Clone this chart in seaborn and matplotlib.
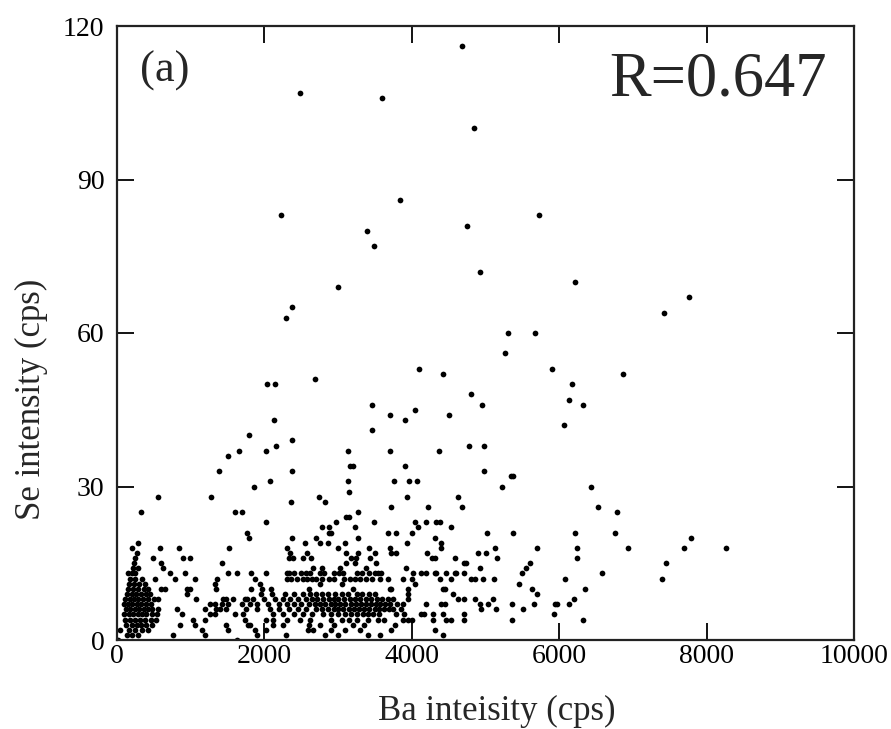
import matplotlib
matplotlib.use("Agg")
import matplotlib.pyplot as plt
import seaborn as sns
import pandas as pd

# ---- sparse high points (Ba, Se) ----
ba_high = [4680, 2480, 3590, 4840, 3835, 2230, 5720, 3390, 4750, 3490, 4930, 6220,
           3000, 7755, 2370, 7425, 2290, 5306, 5676, 5262, 4096, 5900, 4426, 6860,
           2690, 2040, 2145, 6180, 4806, 3460, 4950, 6328, 6128, 3707, 4499, 2130,
           3910, 4047, 6070, 3460, 1790, 2370, 2160, 4770, 4986, 1650, 2020, 3134,
           3707, 4367, 1500, 3160, 3200, 3910, 1390, 2370, 4986, 5340, 5375, 2080,
           3134, 3758, 3961, 4073, 1856, 5221, 6432, 3148, 556, 1274, 2737, 3930,
           4625, 2367, 2823, 3722, 4217, 4678, 6531]
se_high = [116, 107, 106, 100, 86, 83, 83, 80, 81, 77, 72, 70,
           69, 67, 65, 64, 63, 60, 60, 56, 53, 53, 52, 52,
           51, 50, 50, 50, 48, 46, 46, 46, 47, 44, 44, 43,
           43, 45, 42, 41, 40, 39, 38, 38, 38, 37, 37, 37,
           37, 37, 36, 34, 34, 34, 33, 33, 33, 32, 32, 31,
           31, 31, 31, 31, 30, 30, 30, 29, 28, 28, 28, 28,
           28, 27, 27, 26, 26, 26, 26]

# ---- dense band: Ba values at each integer Se level ----
se_25 = [321, 1600, 1690, 3270, 6785]
se_24 = [3111, 3148]
se_23 = [2019, 2967, 3485, 4038, 4197, 4333, 4380]
se_22 = [2787, 2877, 3225, 4083, 4536]
se_21 = [1766, 2877, 2900, 3676, 3789, 4006, 5023, 5375, 6210, 6752]
se_20 = [1793, 2379, 2705, 3270, 4319, 7782]
se_19 = [289, 2547, 2751, 2862, 3089, 3933, 4390]
se_18 = [208, 587, 840, 1518, 2311, 2999, 3417, 3699, 4390, 5135, 5700, 6242,
         6938, 7687, 8266]
se_17 = [270, 2344, 2580, 3111, 3270, 3496, 3722, 3789, 4205, 4896, 5009]
se_16 = [250, 492, 899, 989, 2335, 2390, 2524, 2637, 3179, 3238, 3436, 4270,
         4310, 4580, 5158, 6242]
se_15 = [230, 596, 1427, 3103, 3225, 3518, 4706, 4738, 5604, 7453]
se_14 = [221, 280, 627, 2660, 2787, 3022, 3383, 3924, 4932, 5556]
se_13 = [154, 200, 244, 722, 926, 1508, 1622, 1824, 2028, 2300, 2340, 2400,
         2500, 2560, 2620, 2760, 2810, 2950, 3010, 3060, 3250, 3330, 3420, 3500,
         3541, 3586, 4015, 4128, 4196, 4309, 4331, 4467, 4580, 4602, 4715, 5501,
         6581]
se_12 = [180, 250, 334, 515, 786, 1057, 1355, 1870, 2300, 2360, 2440, 2520,
         2580, 2640, 2700, 2780, 2880, 2950, 3080, 3160, 3230, 3300, 3380, 3460,
         3564, 3676, 3879, 4006, 4377, 4536, 4806, 4851, 4964, 5122, 6080, 7389]
se_11 = [160, 230, 300, 380, 1328, 1938, 2750, 3050, 4038, 5461]
se_10 = [150, 220, 290, 360, 425, 600, 650, 944, 989, 1341, 1824, 1961,
         2096, 2600, 3200, 3699, 3722, 3946, 4422, 4444, 5628, 6351]
se_09 = [130, 200, 260, 320, 390, 450, 956, 1950, 2100, 2280, 2400, 2520,
         2620, 2700, 2780, 2860, 2960, 3050, 3140, 3250, 3330, 3420, 3500, 3946,
         4557, 5700]
se_08 = [110, 170, 230, 290, 350, 420, 500, 560, 1070, 1440, 1485, 1577,
         1734, 1760, 1850, 2000, 2150, 2250, 2350, 2450, 2560, 2640, 2720, 2800,
         2880, 2940, 3000, 3080, 3160, 3230, 3300, 3380, 3450, 3530, 3600, 3680,
         3740, 3946, 4625, 4706, 4851, 5099, 6206]
se_07 = [100, 150, 210, 270, 330, 400, 460, 1260, 1328, 1418, 1508, 1690,
         1800, 1900, 2050, 2200, 2300, 2400, 2500, 2600, 2680, 2750, 2820, 2900,
         2960, 3030, 3100, 3170, 3240, 3310, 3380, 3450, 3520, 3570, 3630, 3700,
         3800, 3880, 4196, 4399, 4444, 4919, 5031, 5356, 5664, 5940, 5975, 6129]
se_06 = [120, 180, 240, 300, 360, 420, 480, 550, 808, 1192, 1341, 1395,
         1476, 1750, 1900, 2080, 2200, 2330, 2450, 2560, 2700, 2780, 2860, 2940,
         3000, 3070, 3150, 3220, 3290, 3350, 3420, 3500, 3560, 3620, 3690, 3740,
         3850, 4942, 5145, 5511]
se_05 = [100, 160, 220, 280, 340, 400, 470, 540, 876, 1260, 1328, 1600,
         1712, 2118, 2250, 2400, 2520, 2650, 2800, 2900, 3000, 3100, 3180, 3260,
         3340, 3400, 3480, 3550, 3789, 3900, 4119, 4164, 4287, 4422, 4715, 5926]
se_04 = [110, 180, 250, 310, 380, 460, 530, 1034, 1192, 1734, 2028, 2118,
         2300, 2480, 2620, 2900, 3050, 3150, 3250, 3400, 3540, 3620, 3880, 3950,
         4000, 4287, 4467, 4536, 4715, 5362, 6328]
se_03 = [120, 200, 270, 330, 400, 480, 853, 1057, 1476, 1780, 1802, 2118,
         2250, 2600, 2750, 2950, 3200, 3350, 3767]
se_02 = [41, 160, 250, 340, 420, 1147, 1508, 1870, 2019, 2592, 2660, 2900,
         3100, 3300, 3722, 4309]
se_01 = [131, 200, 290, 763, 1192, 1893, 2299, 2818, 3000, 3400, 3564, 4422]
se_00 = [18, 1622]

band = [se_00, se_01, se_02, se_03, se_04, se_05, se_06, se_07, se_08, se_09,
        se_10, se_11, se_12, se_13, se_14, se_15, se_16, se_17, se_18, se_19,
        se_20, se_21, se_22, se_23, se_24, se_25]

ba_all = list(ba_high)
se_all = list(se_high)
for level, xs in enumerate(band):
    ba_all.extend(xs)
    se_all.extend([level] * len(xs))

df = pd.DataFrame({"Ba": ba_all, "Se": se_all})

x_ticks = [0, 2000, 4000, 6000, 8000, 10000]
y_ticks = [0, 30, 60, 90, 120]

sns.set_style("ticks")
plt.rcParams["font.family"] = ["Liberation Serif", "DejaVu Serif"]

fig = plt.figure(figsize=(8.91, 7.29), dpi=100)
ax = fig.add_axes([117 / 891, 89 / 729, 737 / 891, 614 / 729])

sns.scatterplot(data=df, x="Ba", y="Se", ax=ax, color="black", s=17,
                linewidth=0, marker="o", legend=False)

ax.set_xlim(0, 10000)
ax.set_ylim(0, 120)
ax.set_xticks(x_ticks)
ax.set_yticks(y_ticks)
ax.set_xticklabels([str(v) for v in x_ticks])
ax.set_yticklabels([str(v) for v in y_ticks])
ax.tick_params(direction="in", length=12, width=1.3, top=True, right=True,
               labelsize=20, colors="black")
ax.tick_params(axis="x", pad=3)
ax.tick_params(axis="y", pad=9)
for sp in ax.spines.values():
    sp.set_visible(True)
    sp.set_linewidth(1.6)
    sp.set_color("#222222")

ax.set_xlabel("Ba inteisity (cps)", fontsize=25)
ax.set_ylabel("Se intensity (cps)", fontsize=25)
ax.xaxis.set_label_coords(0.515, -0.1305)
ax.xaxis.label.set_verticalalignment("baseline")
ax.yaxis.set_label_coords(-0.094, 0.392)

ax.text(0.031, 0.909, "(a)", transform=ax.transAxes, fontsize=32,
        ha="left", va="baseline")
ax.text(0.963, 0.886, "R=0.647", transform=ax.transAxes, fontsize=45,
        ha="right", va="baseline")

fig.savefig("out.png", dpi=100)
